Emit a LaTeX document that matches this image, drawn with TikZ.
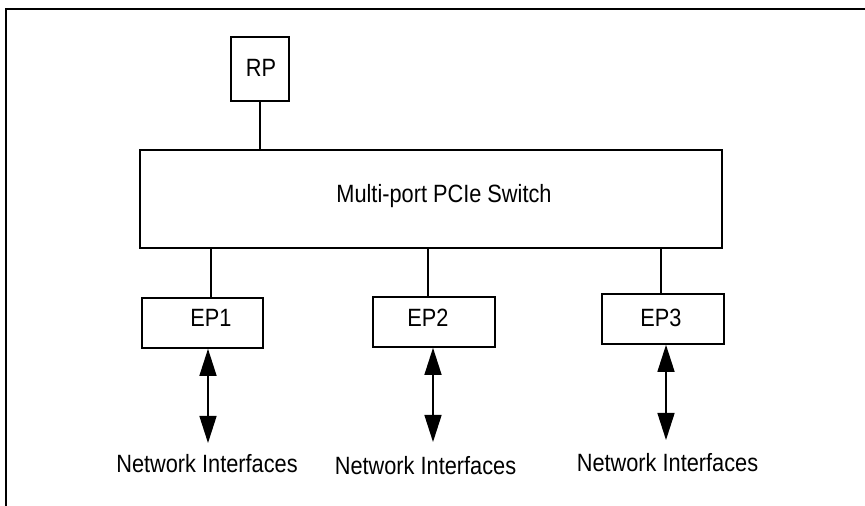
\documentclass[tikz,border=0pt]{standalone}
\usepackage{fontspec}
\setmainfont{Liberation Sans}[FakeStretch=0.87]
\usetikzlibrary{arrows.meta}

\tikzset{
	box/.style={draw, line width=0.85pt, inner sep=0pt},
	txt/.style={anchor=base, inner sep=0pt},
	link/.style={line width=0.7pt},
	bothway/.style={line width=0.75pt, {Triangle[length=13.5pt,width=8.5pt]}-{Triangle[length=13.5pt,width=8.5pt]}}
}

\begin{document}
\begin{tikzpicture}[x=0.5pt, y=-0.5pt, font=\fontsize{12.5}{15}\selectfont]
		\useasboundingbox (0,0) rectangle (865,506);
		
		%Frame
		\draw[line width=1pt] (865,9) -- (6,9) -- (6,506);
		
		%Boxes
		\node[box, minimum width=29.3pt, minimum height=32.3pt] (rp) at (260,69) {};
		\node[box, minimum width=291pt, minimum height=48.85pt] (sw) at (431,198.85) {};
		\node[box, minimum width=60.65pt, minimum height=25.15pt] (ep1) at (202.35,322.85) {};
		\node[box, minimum width=61pt, minimum height=25pt] (ep2) at (434,322) {};
		\node[box, minimum width=61pt, minimum height=25pt] (ep3) at (663,319) {};
		
		%Texts
		\node[txt] (rpt) at (261,77) {RP};
		\node[txt] (swt) at (444,203) {Multi-port PCIe Switch};
		\node[txt] (ep1t) at (211,327) {EP1};
		\node[txt] (ep2t) at (428,327) {EP2};
		\node[txt] (ep3t) at (661,327) {EP3};
		\node[txt] (ni1) at (207,473) {Network Interfaces};
		\node[txt] (ni2) at (425.5,474) {Network Interfaces};
		\node[txt] (ni3) at (667.5,472) {Network Interfaces};
		
		%arrow ends
		\coordinate (n1) at (208,443);
		\coordinate (n2) at (433,442);
		\coordinate (n3) at (666,440);
		
		%connections
		\draw[link] (rp.south) -- (rp.south |- sw.north);
		\draw[link] (sw.south -| ep1t) -- (ep1.north -| ep1t);
		\draw[link] (sw.south -| ep2t) -- (ep2.north -| ep2t);
		\draw[link] (sw.south -| ep3t) -- (ep3.north -| ep3t);
		
		\draw[bothway] (ep1.south -| n1) -- (n1);
		\draw[bothway] (ep2.south -| n2) -- (n2);
		\draw[bothway] (ep3.south -| n3) -- (n3);
		
	\end{tikzpicture}
\end{document}
